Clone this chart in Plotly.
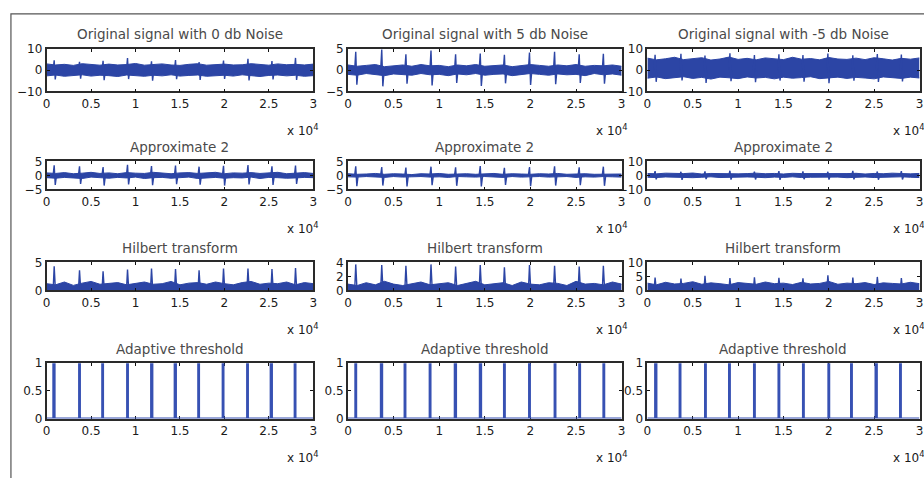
import plotly.graph_objects as go

W, H = 924, 478

# ---------------- data (x in units of 1e4 samples) ----------------
ENV_X = [0.0, 0.1, 0.2, 0.3, 0.4, 0.5, 0.6, 0.7, 0.8, 0.9, 1.0, 1.1, 1.2, 1.3, 1.4, 1.5,
         1.6, 1.7, 1.8, 1.9, 2.0, 2.1, 2.2, 2.3, 2.4, 2.5, 2.6, 2.7, 2.8, 2.9, 3.0]
BEATS = [0.085, 0.37, 0.635, 0.91, 1.18, 1.45, 1.715, 1.99, 2.265, 2.535, 2.80]

# Row 1: original signals
orig0_hi = [2.9,2.4,2.7,2.2,3.0,2.5,2.3,2.8,2.4,2.6,3.1,2.3,2.5,2.9,2.4,2.2,2.7,3.0,2.3,2.6,2.8,2.4,2.5,3.0,2.6,2.3,2.9,2.5,2.7,2.4,2.8]
orig0_lo = [-2.7,-2.3,-2.9,-2.5,-2.2,-2.8,-2.4,-2.6,-3.0,-2.3,-2.5,-2.9,-2.4,-2.7,-2.2,-2.8,-2.5,-2.3,-2.9,-2.6,-2.4,-2.8,-2.2,-2.6,-3.0,-2.5,-2.3,-2.7,-2.4,-2.9,-2.6]
orig0_peak = [4.6,3.9,4.3,5.6,4.1,4.7,3.8,4.5,5.3,4.2,5.7]
orig0_trough = [-4.4,-4.0,-4.7,-4.2,-5.0,-4.3,-4.6,-4.1,-4.8,-4.4,-4.6]

orig5_hi = [1.2,0.9,1.1,1.3,0.8,1.0,1.2,0.9,1.3,1.0,1.1,0.8,1.2,1.0,1.3,0.9,1.1,1.2,0.8,1.0,1.3,1.1,0.9,1.2,1.0,1.3,0.9,1.1,1.0,1.2,0.9]
orig5_lo = [-1.0,-1.2,-0.8,-1.1,-1.3,-0.9,-1.0,-1.2,-0.8,-1.1,-1.0,-1.3,-0.9,-1.1,-0.8,-1.2,-1.0,-0.9,-1.3,-1.1,-0.8,-1.0,-1.2,-0.9,-1.1,-1.0,-1.3,-0.8,-1.1,-0.9,-1.2]
orig5_peak = [4.3,4.8,3.7,4.6,3.7,3.9,3.6,4.1,4.3,3.7,3.8]
orig5_trough = [-3.4,-3.8,-3.2,-3.6,-3.0,-3.7,-3.1,-3.5,-3.3,-3.0,-3.2]

origm5_hi = [5.6,4.8,5.3,6.0,4.9,5.4,5.8,4.7,5.2,6.1,5.0,5.5,4.8,5.7,5.3,4.9,6.0,5.1,5.4,4.8,5.9,5.2,5.0,5.6,4.9,5.8,5.3,4.7,5.5,5.1,5.7]
origm5_lo = [-3.8,-3.2,-4.0,-3.5,-3.1,-3.9,-3.4,-4.2,-3.3,-3.6,-4.0,-3.2,-3.7,-3.4,-4.1,-3.3,-3.8,-3.5,-3.1,-4.0,-3.6,-3.3,-3.9,-3.4,-3.7,-4.1,-3.2,-3.6,-3.9,-3.3,-3.7]
origm5_peak = [7.2,7.6,6.8,7.9,7.0,7.4,7.1,7.8,6.9,7.5,7.3]
origm5_trough = [-5.5,-4.8,-6.0,-5.2,-5.7,-4.9,-5.4,-6.1,-5.0,-5.6,-5.3]

# Row 2: approximate 2
appr0_hi = [0.9,0.7,1.0,0.6,0.8,1.1,0.7,0.9,0.6,1.0,0.8,0.7,1.1,0.8,0.6,0.9,1.0,0.7,0.8,1.1,0.6,0.9,0.8,1.0,0.7,0.9,1.1,0.6,0.8,1.0,0.7]
appr0_lo = [-0.8,-1.0,-0.7,-0.9,-1.1,-0.6,-0.8,-1.0,-0.7,-0.9,-0.6,-1.1,-0.8,-0.7,-1.0,-0.9,-0.6,-1.1,-0.8,-0.7,-1.0,-0.8,-0.9,-0.6,-1.1,-0.7,-0.8,-1.0,-0.9,-0.7,-0.8]
appr0_peak = [3.6,3.2,3.0,3.8,3.3,3.5,3.1,3.4,3.7,3.2,3.5]
appr0_trough = [-3.4,-3.0,-3.6,-3.2,-3.5,-3.1,-3.3,-3.6,-3.2,-3.4,-3.0]

appr5_hi = [0.6,0.4,0.5,0.7,0.4,0.6,0.5,0.3,0.6,0.5,0.7,0.4,0.5,0.6,0.4,0.5,0.7,0.4,0.6,0.5,0.4,0.6,0.5,0.7,0.4,0.5,0.6,0.4,0.5,0.6,0.5]
appr5_lo = [-0.5,-0.6,-0.4,-0.5,-0.7,-0.4,-0.6,-0.5,-0.4,-0.6,-0.5,-0.7,-0.4,-0.5,-0.6,-0.4,-0.5,-0.7,-0.4,-0.6,-0.5,-0.4,-0.6,-0.5,-0.4,-0.7,-0.5,-0.6,-0.4,-0.5,-0.6]
appr5_peak = [3.2,3.0,2.8,3.1,2.9,3.3,2.7,3.0,3.2,2.9,3.1]
appr5_trough = [-3.8,-3.6,-3.9,-3.5,-3.7,-3.9,-3.4,-3.8,-3.6,-3.5,-3.7]

apprm5_hi = [1.4,1.1,1.6,1.2,1.3,1.7,1.0,1.4,1.2,1.5,1.1,1.3,1.6,1.2,1.4,1.0,1.5,1.3,1.2,1.6,1.1,1.4,1.3,1.5,1.0,1.4,1.2,1.6,1.3,1.1,1.4]
apprm5_lo = [-1.3,-1.5,-1.1,-1.4,-1.2,-1.6,-1.3,-1.0,-1.5,-1.2,-1.4,-1.1,-1.3,-1.6,-1.2,-1.4,-1.0,-1.5,-1.3,-1.1,-1.4,-1.2,-1.6,-1.3,-1.1,-1.5,-1.2,-1.4,-1.0,-1.3,-1.5]
apprm5_peak = [3.0,2.6,2.8,3.3,2.7,3.1,2.9,2.6,3.2,2.8,3.0]
apprm5_trough = [-2.8,-3.1,-2.6,-3.0,-2.9,-3.2,-2.7,-3.0,-2.8,-3.1,-2.9]

# Row 3: Hilbert transform envelopes
hilb0_hi = [1.2,1.0,1.5,0.9,1.3,1.6,1.1,1.2,1.4,1.0,1.3,1.5,1.1,1.2,1.6,1.0,1.3,1.4,1.1,1.5,1.2,1.0,1.4,1.6,1.1,1.3,1.2,1.5,1.0,1.4,1.2]
hilb0_peak = [4.3,3.6,3.4,3.7,3.9,3.8,3.6,3.9,3.9,3.8,4.0]
hilb5_hi = [0.9,0.7,1.1,0.8,1.3,0.9,0.7,1.0,1.2,0.8,0.9,1.1,0.7,1.0,1.3,0.8,0.9,1.1,0.7,1.2,0.9,0.8,1.1,1.0,0.7,1.3,0.9,1.0,0.8,1.2,0.9]
hilb5_peak = [3.7,3.6,3.5,3.7,3.4,3.6,3.3,3.6,3.5,3.4,3.5]
hilbm5_hi = [2.6,2.0,2.9,2.3,2.5,3.1,2.2,2.7,2.4,2.0,2.8,2.5,2.2,3.0,2.4,2.6,2.1,2.9,2.3,2.5,3.2,2.2,2.6,2.4,2.8,2.1,2.7,2.5,2.3,2.9,2.4]
hilbm5_peak = [4.6,4.2,5.2,4.4,4.7,4.5,4.3,5.4,4.6,4.8,4.4]

# Row 4: adaptive threshold pulses (start / end)
thr0_start = [0.075,0.365,0.625,0.905,1.175,1.44,1.705,1.98,2.255,2.52,2.79]
thr0_end   = [0.09,0.375,0.635,0.915,1.19,1.455,1.715,1.99,2.265,2.535,2.80]
thr5_start = [0.08,0.36,0.62,0.895,1.17,1.445,1.71,1.985,2.265,2.535,2.80]
thr5_end   = [0.09,0.375,0.63,0.905,1.185,1.46,1.72,1.995,2.275,2.545,2.81]
thrm5_start = [0.085,0.355,0.635,0.90,1.175,1.445,1.715,1.995,2.245,2.515,2.785]
thrm5_end   = [0.10,0.365,0.645,0.91,1.185,1.455,1.725,2.005,2.255,2.53,2.795]

TITLES = [
    ["Original signal with 0 db Noise", "Original signal with 5 db Noise", "Original signal with -5 db Noise"],
    ["Approximate 2", "Approximate 2", "Approximate 2"],
    ["Hilbert transform", "Hilbert transform", "Hilbert transform"],
    ["Adaptive threshold", "Adaptive threshold", "Adaptive threshold"],
]
X_TICKS = [0, 0.5, 1, 1.5, 2, 2.5, 3]
X_TICKTEXT = ["0", "0.5", "1", "1.5", "2", "2.5", "3"]
Y_RANGES = [
    [[-10, 10], [-5, 5], [-10, 10]],
    [[-5, 5], [-5, 5], [-10, 10]],
    [[0, 5], [0, 4], [0, 10]],
    [[0, 1], [0, 1], [0, 1]],
]
Y_TICKS = [
    [[-10, 0, 10], [-5, 0, 5], [-10, 0, 10]],
    [[-5, 0, 5], [-5, 0, 5], [-10, 0, 10]],
    [[0, 5], [0, 2, 4], [0, 5, 10]],
    [[0, 0.5, 1], [0, 0.5, 1], [0, 0.5, 1]],
]

# ---------------- layout geometry (pixels) ----------------
COLS = [(43, 312), (347, 623), (649, 923.5)]
ROWS = [(43, 87), (159, 188), (263, 292), (367, 424)]

BLUE = "#2c45a5"
PULSE = "#3751b3"
FONT = "DejaVu Sans"

def px(x):
    return x / W

def py(y):
    return 1 - y / H

fig = go.Figure()

def ax_names(r, c):
    i = r * 3 + c + 1
    s = "" if i == 1 else str(i)
    return "x" + s, "y" + s, "xaxis" + s, "yaxis" + s

def add_band(r, c, x, hi, lo):
    xa, ya, _, _ = ax_names(r, c)
    fig.add_trace(go.Scatter(x=x, y=lo, mode="lines", line=dict(color=BLUE, width=1),
                             xaxis=xa, yaxis=ya, hoverinfo="skip"))
    fig.add_trace(go.Scatter(x=x, y=hi, mode="lines", line=dict(color=BLUE, width=1),
                             fill="tonexty", fillcolor=BLUE, xaxis=xa, yaxis=ya, hoverinfo="skip"))

def add_qrs(r, c, beats, peaks, troughs):
    xa, ya, _, _ = ax_names(r, c)
    xs, ys = [], []
    for b, p, t in zip(beats, peaks, troughs):
        xs += [b - 0.012, b, b + 0.012, b + 0.026, None]
        ys += [0, p, t, 0, None]
    fig.add_trace(go.Scatter(x=xs, y=ys, mode="lines", line=dict(color=BLUE, width=1.4),
                             xaxis=xa, yaxis=ya, hoverinfo="skip"))

def add_hilbert(r, c, hi, beats, peaks):
    xa, ya, _, _ = ax_names(r, c)
    fig.add_trace(go.Scatter(x=ENV_X, y=hi, mode="lines", line=dict(color=BLUE, width=1),
                             fill="tozeroy", fillcolor=BLUE, xaxis=xa, yaxis=ya, hoverinfo="skip"))
    xs, ys = [], []
    for b, p in zip(beats, peaks):
        xs += [b - 0.012, b, b + 0.014, None]
        ys += [0, p, 0, None]
    fig.add_trace(go.Scatter(x=xs, y=ys, mode="lines", line=dict(color=BLUE, width=1.4),
                             xaxis=xa, yaxis=ya, hoverinfo="skip"))

def add_pulses(r, c, starts, ends):
    xa, ya, _, _ = ax_names(r, c)
    xs, ys = [0], [0]
    for s, e in zip(starts, ends):
        xs += [s, s, e, e]
        ys += [0, 1, 1, 0]
    xs.append(3)
    ys.append(0)
    fig.add_trace(go.Scatter(x=xs, y=ys, mode="lines", line=dict(color=PULSE, width=2),
                             xaxis=xa, yaxis=ya, hoverinfo="skip"))

# Row 1
add_band(0, 0, ENV_X, orig0_hi, orig0_lo)
add_qrs(0, 0, BEATS, orig0_peak, orig0_trough)
add_band(0, 1, ENV_X, orig5_hi, orig5_lo)
add_qrs(0, 1, BEATS, orig5_peak, orig5_trough)
add_band(0, 2, ENV_X, origm5_hi, origm5_lo)
add_qrs(0, 2, BEATS, origm5_peak, origm5_trough)
# Row 2
add_band(1, 0, ENV_X, appr0_hi, appr0_lo)
add_qrs(1, 0, BEATS, appr0_peak, appr0_trough)
add_band(1, 1, ENV_X, appr5_hi, appr5_lo)
add_qrs(1, 1, BEATS, appr5_peak, appr5_trough)
add_band(1, 2, ENV_X, apprm5_hi, apprm5_lo)
add_qrs(1, 2, BEATS, apprm5_peak, apprm5_trough)
# Row 3
add_hilbert(2, 0, hilb0_hi, BEATS, hilb0_peak)
add_hilbert(2, 1, hilb5_hi, BEATS, hilb5_peak)
add_hilbert(2, 2, hilbm5_hi, BEATS, hilbm5_peak)
# Row 4
add_pulses(3, 0, thr0_start, thr0_end)
add_pulses(3, 1, thr5_start, thr5_end)
add_pulses(3, 2, thrm5_start, thrm5_end)

annotations = []
layout_axes = {}
for r in range(4):
    for c in range(3):
        xa, ya, xk, yk = ax_names(r, c)
        x0, x1 = COLS[c]
        y0, y1 = ROWS[r]
        layout_axes[xk] = dict(
            domain=[px(x0), px(x1)], anchor=ya, range=[0, 3],
            tickvals=X_TICKS, ticktext=X_TICKTEXT, ticks="inside", ticklen=3,
            tickcolor="#111", showline=True, linecolor="#2a2a2a", linewidth=1.8,
            mirror="allticks", showgrid=False, zeroline=False,
            tickfont=dict(family=FONT, size=12, color="#1a1a1a"),
            fixedrange=True,
            layer="below traces" if r == 3 else "above traces",
        )
        layout_axes[yk] = dict(
            domain=[py(y1), py(y0)], anchor=xa, range=Y_RANGES[r][c],
            tickvals=Y_TICKS[r][c], ticks="inside", ticklen=3, tickcolor="#111",
            showline=True, linecolor="#2a2a2a", linewidth=1.8, mirror="allticks",
            showgrid=False, zeroline=False,
            tickfont=dict(family=FONT, size=12, color="#1a1a1a"),
            fixedrange=True,
            layer="below traces" if r == 3 else "above traces",
        )
        annotations.append(dict(
            text=TITLES[r][c], xref="paper", yref="paper",
            x=px((x0 + x1) / 2), y=py(y0 - 15), xanchor="center", yanchor="middle",
            showarrow=False, font=dict(family=FONT, size=13.5, color="#4a4a4a"),
        ))
        annotations.append(dict(
            text="x 10<sup>4</sup>", xref="paper", yref="paper",
            x=px(x1 + 8), y=py(y1 + 40), xanchor="right", yanchor="middle",
            showarrow=False, font=dict(family=FONT, size=12, color="#1a1a1a"),
        ))

fig.update_layout(
    width=W, height=H, margin=dict(l=0, r=0, t=0, b=0),
    paper_bgcolor="white", plot_bgcolor="white", showlegend=False,
    annotations=annotations,
    shapes=[dict(type="rect", xref="paper", yref="paper",
                 x0=px(7), x1=1.02, y0=-0.02, y1=py(7),
                 line=dict(color="#555", width=1.2))],
    **layout_axes,
)

fig.write_html("out.html", config={"displayModeBar": False},
               post_script="document.body.style.margin='0';document.body.style.overflow='hidden';")
